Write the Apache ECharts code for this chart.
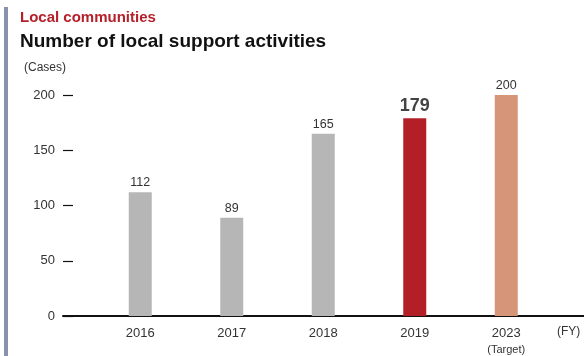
<!DOCTYPE html>
<html>
<head>
<meta charset="utf-8">
<style>
  html, body { margin: 0; padding: 0; background: #fff; }
  #chart { width: 584px; height: 356px; }
</style>
<script src="https://cdn.jsdelivr.net/npm/echarts@6/dist/echarts.min.js"></script>
</head>
<body>
<div id="chart"></div>
<script>
// Fiscal years and number of local support activities (cases)
const years = ['2016', '2017', '2018', '2019', '2023'];
const yearNotes = ['', '', '', '', '(Target)'];
const cases = [112, 89, 165, 179, 200];
const yTicks = [0, 50, 100, 150, 200];

const FONT = '"Liberation Sans", Arial, sans-serif';
const barColors = ['#b5b6b5', '#b5b6b5', '#b5b6b5', '#b31f27', '#d69578'];

const chart = echarts.init(document.getElementById('chart'), null, { renderer: 'canvas' });

chart.setOption({
  animation: false,
  textStyle: { fontFamily: FONT },
  title: [
    { text: 'Local communities', left: 15, top: 5,
      textStyle: { fontFamily: FONT, fontSize: 15, fontWeight: 'bold', color: '#b5202a' } },
    { text: 'Number of local support activities', left: 15, top: 27,
      textStyle: { fontFamily: FONT, fontSize: 19, fontWeight: 'bold', color: '#111' } }
  ],
  graphic: [
    { type: 'rect', shape: { x: 4, y: 7, width: 4, height: 349 }, style: { fill: '#8892ab' } },
    { type: 'text', left: 24, top: 62, style: { text: '(Cases)', fontFamily: FONT, fontSize: 12, fill: '#333' } },
    { type: 'text', left: 557, top: 326, style: { text: '(FY)', fontFamily: FONT, fontSize: 12, fill: '#333' } }
  ],
  grid: [
    { top: 95, bottom: 40, left: 94.5, right: 32, outerBoundsMode: 'none', containLabel: false },
    // wider band used only to draw the long baseline
    { top: 95, bottom: 40, left: 63, right: 0, outerBoundsMode: 'none', containLabel: false }
  ],
  xAxis: [
    {
      type: 'category', gridIndex: 0, data: years,
      axisLine: { show: false }, axisTick: { show: false },
      axisLabel: {
        margin: 9, color: '#333', fontSize: 13, fontFamily: FONT, lineHeight: 16,
        formatter: (v, i) => yearNotes[i] ? v + '\n{n|' + yearNotes[i] + '}' : v,
        rich: { n: { fontSize: 11, color: '#333', fontFamily: FONT, lineHeight: 17 } }
      }
    },
    {
      type: 'value', gridIndex: 1, min: 0, max: 1,
      axisLine: { show: true, lineStyle: { color: '#111', width: 2 } },
      axisTick: { show: false }, axisLabel: { show: false }, splitLine: { show: false }
    }
  ],
  yAxis: [
    {
      type: 'value', gridIndex: 0, min: 0, max: 200, interval: 50, offset: 31.5,
      axisLine: { show: false },
      axisTick: { show: true, inside: true, length: 10, lineStyle: { color: '#111', width: 1.2 } },
      axisLabel: { margin: 8, color: '#333', fontSize: 13, fontFamily: FONT,
        formatter: v => yTicks.includes(v) ? String(v) : '' },
      splitLine: { show: false }
    },
    { type: 'value', gridIndex: 1, min: 0, max: 1, show: false }
  ],
  series: [
    {
      type: 'bar', xAxisIndex: 0, yAxisIndex: 0, barWidth: 23,
      data: cases.map((v, i) => ({
        value: v,
        itemStyle: { color: barColors[i] },
        label: i === 3
          ? { fontSize: 18, fontWeight: 'bold', color: '#444' }
          : { fontSize: 12.5, color: '#333' }
      })),
      label: { show: true, position: 'top', distance: 3, fontFamily: FONT }
    }
  ]
});
</script>
</body>
</html>
